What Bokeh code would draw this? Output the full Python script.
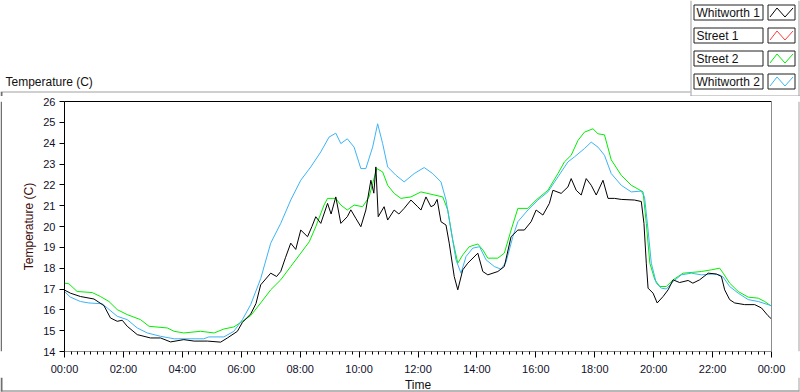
from bokeh.plotting import figure
from bokeh.models import Range1d, LinearAxis, FixedTicker
from bokeh.layouts import column, row
from bokeh.embed import file_html
from bokeh.resources import INLINE
from bokeh.core.properties import value

# ---------------- data (hours since midnight, temperature in C) ----------------
T_W1 = [0.0, 0.2, 0.54, 1.0, 1.34, 1.56, 1.79, 1.96, 2.13, 2.47, 2.92, 3.26, 3.6, 4.05,
        4.4, 4.85, 5.3, 5.53, 5.87, 6.04, 6.32, 6.5, 6.66, 7.0, 7.2, 7.34, 7.5, 7.68,
        7.85, 8.02, 8.25, 8.4, 8.53, 8.7, 8.93, 9.05, 9.21, 9.38, 9.6, 9.72, 9.89,
        10.06, 10.23, 10.4, 10.5, 10.57, 10.65, 10.85, 10.97, 11.19, 11.35, 11.53,
        11.76, 11.99, 12.1, 12.27, 12.44, 12.55, 12.65, 12.78, 12.95, 13.06, 13.23,
        13.35, 13.52, 13.69, 14.03, 14.2, 14.37, 14.71, 14.93, 15.16, 15.39, 15.61,
        15.84, 16.01, 16.24, 16.46, 16.58, 16.86, 17.09, 17.2, 17.37, 17.54, 17.71,
        17.88, 18.05, 18.28, 18.45, 18.67, 18.9, 19.35, 19.58, 19.67, 19.75, 19.81,
        19.98, 20.12, 20.32, 20.49, 20.66, 20.88, 21.17, 21.33, 21.56, 21.85, 22.13,
        22.3, 22.41, 22.58, 22.75, 23.09, 23.43, 23.66, 23.88, 24.0]
V_W1 = [16.95, 16.8, 16.64, 16.52, 16.2, 15.61, 15.45, 15.5, 15.21, 14.81, 14.65, 14.65,
        14.46, 14.57, 14.5, 14.5, 14.45, 14.65, 14.97, 15.4, 15.8, 16.3, 17.2, 17.76,
        17.6, 17.84, 18.5, 19.2, 18.9, 19.83, 19.51, 20.0, 20.47, 20.15, 21.11, 20.6,
        21.42, 20.15, 20.47, 20.8, 20.39, 19.99, 20.79, 22.22, 21.6, 22.86, 20.47,
        20.95, 20.31, 20.79, 20.6, 20.87, 21.27, 20.95, 20.79, 21.42, 20.95, 21.03,
        21.3, 20.23, 20.07, 19.2, 17.6, 16.96, 17.92, 18.24, 18.72, 17.84, 17.68,
        17.84, 18.08, 19.51, 19.83, 19.83, 20.23, 20.79, 20.55, 21.11, 21.74, 21.59,
        21.9, 22.3, 21.74, 21.51, 22.3, 21.98, 21.51, 22.22, 21.35, 21.35, 21.3,
        21.27, 21.2, 20.15, 18.24, 17.04, 16.8, 16.33, 16.64, 16.96, 17.44, 17.31,
        17.41, 17.28, 17.44, 17.76, 17.72, 17.6, 16.96, 16.49, 16.33, 16.25, 16.25,
        16.09, 15.72, 15.56]

T_S2 = [0.0, 0.15, 0.43, 0.94, 1.22, 1.51, 1.79, 2.13, 2.58, 2.87, 3.49, 3.72, 4.05,
        4.62, 5.08, 5.41, 5.75, 6.04, 6.32, 6.66, 7.0, 7.34, 7.68, 8.02, 8.31, 8.53,
        8.81, 8.93, 9.21, 9.38, 9.6, 9.83, 10.12, 10.34, 10.46, 10.6, 10.8, 10.97,
        11.19, 11.42, 11.76, 12.1, 12.44, 12.84, 13.01, 13.18, 13.35, 13.52, 13.74,
        14.03, 14.2, 14.37, 14.71, 14.93, 15.16, 15.39, 15.73, 16.01, 16.41, 16.75,
        16.97, 17.2, 17.43, 17.65, 17.94, 18.11, 18.33, 18.56, 18.9, 19.24, 19.64,
        19.75, 19.87, 20.04, 20.21, 20.43, 20.66, 21.0, 21.33, 21.62, 21.96, 22.24,
        22.36, 22.58, 22.87, 23.21, 23.55, 23.77, 24.0]
V_S2 = [17.28, 17.25, 16.88, 16.83, 16.64, 16.4, 16.01, 15.77, 15.53, 15.21, 15.13,
        14.97, 14.89, 14.97, 14.89, 15.08, 15.18, 15.45, 15.72, 16.33, 16.96, 17.44,
        18.08, 18.72, 19.27, 19.99, 21.03, 21.35, 21.35, 21.03, 20.79, 21.03, 20.95,
        21.42, 22.06, 22.78, 22.62, 21.98, 21.59, 21.35, 21.42, 21.66, 21.55, 21.42,
        20.79, 19.35, 18.24, 18.64, 19.03, 19.16, 18.88, 18.48, 18.48, 18.72, 19.83,
        20.87, 20.87, 21.27, 21.74, 22.54, 23.1, 23.42, 24.13, 24.53, 24.69, 24.45,
        24.4, 23.2, 22.46, 21.98, 21.66, 20.15, 18.24, 17.44, 17.12, 17.12, 17.44,
        17.76, 17.8, 17.84, 17.92, 18.0, 17.76, 17.28, 16.88, 16.61, 16.56, 16.4, 16.17]

T_W2 = [0.0, 0.2, 0.54, 0.83, 1.28, 1.45, 1.79, 2.13, 2.47, 2.81, 3.26, 3.72, 4.73,
        4.9, 5.41, 5.75, 6.04, 6.32, 6.66, 7.0, 7.34, 7.68, 8.02, 8.36, 8.7, 8.98,
        9.21, 9.38, 9.6, 9.83, 10.06, 10.23, 10.46, 10.63, 10.8, 10.97, 11.25, 11.53,
        11.87, 12.21, 12.5, 12.78, 12.95, 13.12, 13.29, 13.46, 13.63, 13.86, 14.09,
        14.31, 14.59, 14.82, 14.99, 15.22, 15.39, 15.73, 16.07, 16.41, 16.75, 17.09,
        17.31, 17.65, 17.88, 18.11, 18.33, 18.56, 18.9, 19.24, 19.58, 19.69, 19.81,
        19.92, 20.09, 20.26, 20.43, 20.66, 20.94, 21.28, 21.62, 22.02, 22.24, 22.36,
        22.58, 22.87, 23.21, 23.55, 23.88, 24.0]
V_W2 = [16.88, 16.61, 16.4, 16.33, 16.29, 16.09, 15.69, 15.53, 15.13, 14.89, 14.73,
        14.61, 14.61, 14.7, 14.7, 14.97, 15.53, 16.25, 17.5, 19.2, 20.15, 21.27, 22.22,
        22.86, 23.58, 24.29, 24.48, 23.98, 24.21, 23.81, 22.78, 22.78, 23.81, 24.93,
        23.98, 22.86, 22.46, 22.14, 22.54, 22.83, 22.54, 22.14, 21.27, 19.83, 18.4,
        17.76, 18.56, 18.96, 19.03, 18.4, 18.08, 17.95, 18.3, 19.51, 20.23, 20.79,
        21.27, 21.66, 22.38, 23.1, 23.34, 23.74, 24.05, 23.81, 23.42, 22.54, 21.98,
        21.66, 21.7, 21.42, 19.83, 18.24, 17.28, 17.04, 17.0, 17.36, 17.68, 17.76,
        17.68, 17.72, 17.68, 17.57, 17.12, 16.8, 16.49, 16.4, 16.25, 16.2]

SERIES_NAMES = ["Whitworth 1", "Street 1", "Street 2", "Whitworth 2"]
SERIES_COLORS = ["#000000", "#ff3c3c", "#00ee00", "#3cb4f5"]

X_TICKS = [0, 2, 4, 6, 8, 10, 12, 14, 16, 18, 20, 22, 24]
X_TICK_LABELS = ["00:00", "02:00", "04:00", "06:00", "08:00", "10:00", "12:00",
                 "14:00", "16:00", "18:00", "20:00", "22:00", "00:00"]
Y_TICKS = [14, 15, 16, 17, 18, 19, 20, 21, 22, 23, 24, 25, 26]
X_TITLE = "Time"
Y_TITLE = "Temperature (C)"

FONT = "Liberation Sans"
FRAME_DARK = "#707070"
FRAME_GRAY = "#a0a0a0"


def blank(width, height, x0, x1, y0, y1):
    """A bare figure whose data units are page pixels (y grows downwards)."""
    f = figure(width=width, height=height, output_backend="svg", toolbar_location=None,
               x_range=Range1d(x0, x1), y_range=Range1d(y1, y0),
               x_axis_location=None, y_axis_location=None,
               min_border_left=0, min_border_right=0, min_border_top=0,
               min_border_bottom=0)
    f.outline_line_color = None
    f.grid.visible = False
    f.background_fill_color = "white"
    f.border_fill_color = "white"
    return f


# ---------------- header: title + legend ----------------
HEAD_H = 96
head = blank(800, HEAD_H, 0, 800, 0, HEAD_H)
head.line([0, 690], [91.5, 91.5], line_color=FRAME_GRAY, line_width=1)
head.line([1, 1], [91.5, 96], line_color=FRAME_DARK, line_width=2)
head.line([690.5, 690.5], [0, 96], line_color=FRAME_GRAY, line_width=1)
head.line([690, 800], [95.5, 95.5], line_color=FRAME_GRAY, line_width=1)
head.line([798.5, 798.5], [0, 96], line_color=FRAME_GRAY, line_width=1)
head.text(x=[5], y=[81], text=[Y_TITLE], text_font=value(FONT),
          text_font_size=value("12px"), text_baseline="middle", text_align="left",
          text_color="#111111")

tops = [4.5, 27.5, 50.5, 73.5]
bots = [t + 15 for t in tops]
head.quad(left=[693.5] * 4, right=[762.5] * 4, top=tops, bottom=bots,
          fill_color="white", line_color="#202020", line_width=1)
head.quad(left=[767.5] * 4, right=[794.5] * 4, top=tops, bottom=bots,
          fill_color="white", line_color="#202020", line_width=1)
head.text(x=[696] * 4, y=[t + 8 for t in tops], text=SERIES_NAMES,
          text_font=value(FONT), text_font_size=value("12px"),
          text_baseline="middle", text_align="left", text_color="#111111")
for color, t, b in zip(SERIES_COLORS, tops, bots):
    head.line([769.5, 776.5, 784.5, 792.5], [b - 3, t + 3, b - 3, t + 3],
              line_color=color, line_width=1)

# ---------------- main chart ----------------
MAIN_TOP, MAIN_BOT = 96, 377
MAIN_L, MAIN_R = 2, 797
FRAME_L, FRAME_R, FRAME_T, FRAME_B = 64, 771, 101, 352
p = figure(width=MAIN_R - MAIN_L, height=MAIN_BOT - MAIN_TOP, output_backend="svg",
           toolbar_location=None, x_range=Range1d(0, 24), y_range=Range1d(14, 26),
           x_axis_location=None, y_axis_location=None,
           min_border_left=FRAME_L - MAIN_L, min_border_right=MAIN_R - FRAME_R,
           min_border_top=FRAME_T - MAIN_TOP, min_border_bottom=MAIN_BOT - FRAME_B)
p.outline_line_color = None
p.background_fill_color = "white"
p.border_fill_color = "white"
p.grid.visible = False

minor = []
for k in range(12):
    for j in range(1, 9):
        minor.append(2 * k + j * 2 / 9)

xaxis = LinearAxis(ticker=FixedTicker(ticks=X_TICKS, minor_ticks=minor),
                   major_label_overrides={t: l for t, l in zip(X_TICKS, X_TICK_LABELS)})
xaxis.axis_line_color = "#8c8c8c"
xaxis.major_tick_line_color = "black"
xaxis.minor_tick_line_color = "black"
xaxis.major_tick_out = 6
xaxis.major_tick_in = 0
xaxis.minor_tick_out = 3
xaxis.minor_tick_in = 0
xaxis.major_label_standoff = 5
xaxis.major_label_text_font = FONT
xaxis.major_label_text_font_size = "11px"
xaxis.major_label_text_color = "#10102a"
p.add_layout(xaxis, "below")

yaxis = LinearAxis(ticker=FixedTicker(ticks=Y_TICKS, minor_ticks=[]),
                   axis_label=Y_TITLE)
yaxis.axis_line_color = "black"
yaxis.major_tick_line_color = "black"
yaxis.major_tick_out = 5
yaxis.major_tick_in = 0
yaxis.minor_tick_line_color = None
yaxis.major_label_standoff = 4
yaxis.major_label_text_font = FONT
yaxis.major_label_text_font_size = "11px"
yaxis.major_label_text_color = "#10102a"
yaxis.axis_label_standoff = 4
yaxis.axis_label_text_font = FONT
yaxis.axis_label_text_font_size = "12px"
yaxis.axis_label_text_font_style = "normal"
yaxis.axis_label_text_color = "#3a0c0c"
p.add_layout(yaxis, "left")

top_axis = LinearAxis(ticker=FixedTicker(ticks=[]), major_label_text_font_size="0px",
                      major_tick_line_color=None, minor_tick_line_color=None,
                      axis_line_color="black", axis_line_width=1)
p.add_layout(top_axis, "above")
right_axis = LinearAxis(ticker=FixedTicker(ticks=[]), major_label_text_font_size="0px",
                        major_tick_line_color=None, minor_tick_line_color=None,
                        axis_line_color="#8c8c8c", axis_line_width=1)
p.add_layout(right_axis, "right")

p.line(T_S2, V_S2, line_color=SERIES_COLORS[2], line_width=1)
p.line(T_W2, V_W2, line_color=SERIES_COLORS[3], line_width=1)
p.line(T_W1, V_W1, line_color=SERIES_COLORS[0], line_width=1)

# ---------------- frame strips around the chart ----------------
left_strip = blank(MAIN_L, MAIN_BOT - MAIN_TOP, 0, MAIN_L, MAIN_TOP, MAIN_BOT)
left_strip.line([1, 1], [MAIN_TOP, MAIN_BOT], line_color=FRAME_DARK, line_width=2)
right_strip = blank(800 - MAIN_R, MAIN_BOT - MAIN_TOP, MAIN_R, 800, MAIN_TOP, MAIN_BOT)
right_strip.line([798.5, 798.5], [MAIN_TOP, MAIN_BOT], line_color=FRAME_GRAY,
                 line_width=1)

# bottom strip: x-axis title and the lower edge of the frame
bottom_strip = blank(800, 392 - MAIN_BOT, 0, 800, MAIN_BOT, 392)
bottom_strip.text(x=[(FRAME_L + FRAME_R) / 2], y=[384], text=[X_TITLE],
                  text_font=value(FONT), text_font_size=value("12px"),
                  text_baseline="middle", text_align="center", text_color="#111111")
bottom_strip.line([0, 799], [390.5, 390.5], line_color=FRAME_DARK, line_width=1)
bottom_strip.line([1, 1], [MAIN_BOT, 391], line_color=FRAME_DARK, line_width=2)
bottom_strip.line([798.5, 798.5], [MAIN_BOT, 391], line_color=FRAME_GRAY, line_width=1)

layout = column(head, row(left_strip, p, right_strip), bottom_strip)

open("out.html", "w").write(file_html(layout, INLINE))
